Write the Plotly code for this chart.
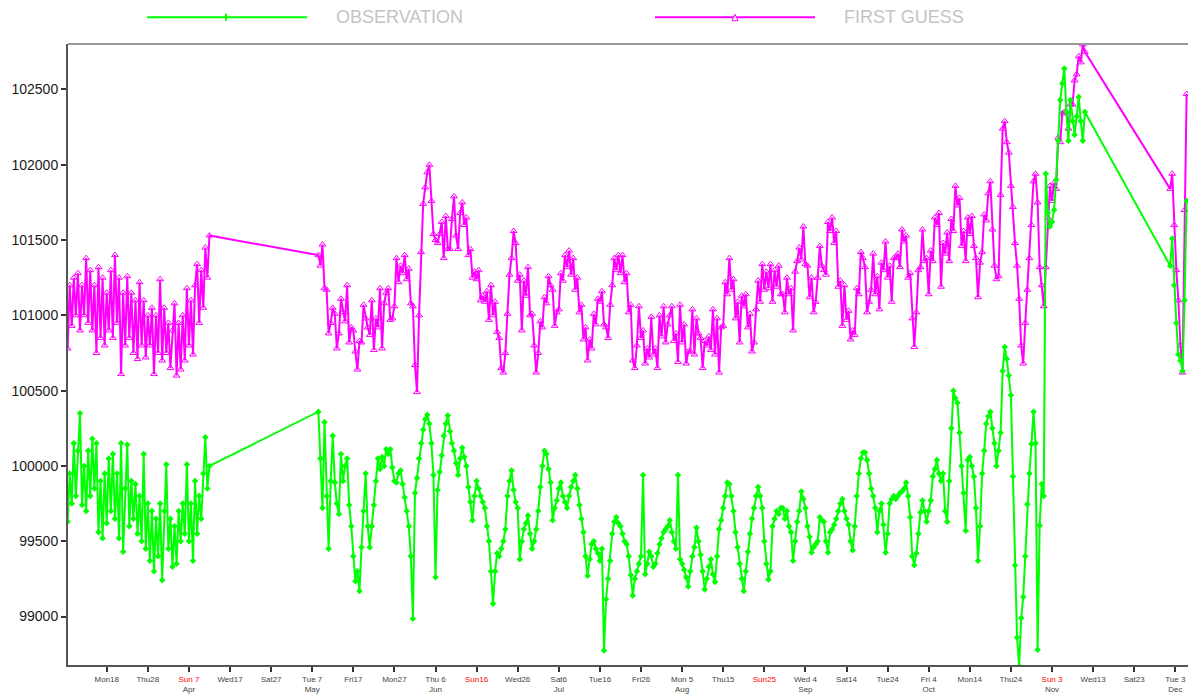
import pandas as pd
import plotly.graph_objects as go

# ---------------------------------------------------------------- data (Pa)
# 12-hourly surface pressure, three observing periods
seg_a_start = "2024-03-08 12:00"
seg_b_start = "2024-05-08 12:00"
seg_c_start = "2024-12-01 18:00"

obs_a = [
    99630, 99950, 99750, 100150, 99800, 100100, 100350, 99740, 100000, 99700,
    100100, 99800, 100180, 99850, 100150, 99560, 99900, 99520, 99950, 99620,
    100050, 99700, 100080, 99650, 99950, 99520, 100150, 99430, 99850, 100140,
    99600, 99900, 99650, 99880, 99550, 99800, 99500, 100080, 99450, 99750,
    99370, 99700, 99300, 99650, 99400, 99750, 99240, 99700, 100010, 99450,
    99650, 99330, 99600, 99350, 99700, 99500, 99750, 99550, 100010, 99500,
    99750, 99370, 99900, 99550, 99800, 99650, 99950, 100190, 99850, 100000,
]
fg_a = [
    100780, 101200, 100930, 101250, 101000, 101280, 100900, 101200, 101000, 101380,
    100950, 101300, 100900, 101200, 100750, 101320, 100850, 101250, 100800, 101150,
    100900, 101300, 100850, 101400, 100950, 101250, 100610, 101150, 100800, 101260,
    100850, 101150, 100750, 101100, 100710, 101220, 100800, 101100, 100720, 101000,
    100800, 101050, 100610, 101000, 100750, 101240, 100700, 101050, 100750, 100950,
    100650, 100900, 101080, 100600, 100950, 100640, 101000, 100700, 101180, 100800,
    101100, 100740, 101200, 101340, 100950, 101300, 101050, 101450, 101250, 101530,
]

obs_b = [
    100360, 100050, 99720, 100290, 99800, 99450, 99900, 100200, 99890, 99750,
    99680, 100080, 99900, 100000, 100050, 99740, 99600, 99400, 99235, 99300,
    99170, 99460, 99700, 99950, 99600, 99460, 99600, 99740, 99900, 100050,
    99980, 100060, 100000, 100110, 100080, 100110, 99990, 99900, 99890, 99950,
    99970, 99880, 99790, 99700, 99600, 99400, 98985, 99820, 99920, 100050,
    100150, 100240, 100310, 100340, 100280, 100150, 99940, 99260, 99840, 99960,
    100070, 100200, 100280, 100335, 100230, 100150, 100100, 100020, 99940, 100050,
    100120, 100060, 100000, 99860, 99760, 99640, 99800, 99900, 99850, 99800,
    99760, 99720, 99600, 99500, 99300, 99085, 99300, 99420, 99400, 99450,
    99500, 99580, 99800, 99900, 99970, 99840, 99760, 99720, 99380, 99500,
    99580, 99620, 99670, 99550, 99450, 99500, 99580, 99700, 99860, 100000,
    100100, 100080, 99980, 99890, 99640, 99720, 99770, 99850, 99890, 99800,
    99760, 99720, 99800, 99860, 99900, 99940, 99850, 99740, 99650, 99560,
    99400, 99270, 99380, 99480, 99500, 99450, 99420, 99370, 99450, 98775,
    99115, 99250, 99370, 99550, 99630, 99660, 99620, 99600, 99550, 99500,
    99480, 99400, 99275, 99140, 99250, 99300, 99350, 99400, 99940, 99280,
    99350, 99430, 99400, 99330, 99350, 99420, 99480, 99520, 99560, 99580,
    99600, 99640, 99560, 99500, 99450, 99940, 99380, 99350, 99310, 99260,
    99200, 99300, 99400, 99460, 99590, 99500, 99410, 99300, 99180, 99250,
    99330, 99380, 99280, 99230, 99400, 99580, 99640, 99720, 99800, 99890,
    99880, 99800, 99700, 99560, 99460, 99350, 99250, 99170, 99300, 99430,
    99550, 99650, 99720, 99800, 99860, 99800, 99720, 99500, 99350, 99245,
    99300, 99600, 99650, 99700, 99680, 99720, 99720, 99650, 99700, 99600,
    99560, 99370, 99500, 99630, 99700, 99830, 99780, 99720, 99600, 99530,
    99425, 99460, 99480, 99500, 99660, 99640, 99630, 99500, 99425, 99560,
    99580, 99610, 99650, 99700, 99750, 99780, 99700, 99650, 99610, 99500,
    99440, 99600, 99800, 99950, 100050, 100090, 100090, 100040, 99950, 99850,
    99800, 99720, 99560, 99700, 99750, 99610, 99425, 99550, 99750, 99780,
    99800, 99780, 99800, 99820, 99830, 99850, 99890, 99800, 99660, 99400,
    99340, 99420, 99550, 99690, 99770, 99700, 99630, 99700, 99770, 99930,
    99980, 100040, 99950, 99900, 99950, 99700, 99630, 99900, 100250, 100500,
    100450, 100420, 100220, 100000, 99820, 99570, 100040, 100060, 100000, 99930,
    99720, 99370, 99600, 99950, 100100, 100280, 100330, 100360, 100250, 100150,
    100000, 100100, 100220, 100630, 100790, 100710, 100600, 100470, 99930, 99340,
    98860, 98670, 98990, 99130, 99400, 99745, 99950, 100145, 100360, 100150,
    98780, 99605, 99880, 99800, 101940, 101680, 101590, 101620, 101700, 101900,
    102160, 102430, 102540, 102640, 102350, 102160, 102430, 102290, 102200, 102320,
    102450, 102290, 102160, 102350,
]
fg_b = [
    101400, 101330, 101470, 101180, 101170, 100880, 100950, 101050, 101010, 100780,
    100880, 101110, 101020, 100960, 101200, 100820, 100920, 100900, 100760, 100640,
    100830, 100820, 101070, 100980, 100920, 100870, 101100, 100770, 100980, 100920,
    101180, 100780, 101080, 101150, 101180, 100970, 100980, 101060, 101380, 101220,
    101330, 101280, 101400, 101240, 101310, 101080, 101060, 100670, 100490, 101000,
    101420, 101740, 101850, 101950, 102000, 101760, 101540, 101500, 101480, 101540,
    101620, 101380, 101660, 101440, 101440, 101640, 101790, 101530, 101440, 101680,
    101750, 101600, 101650, 101400, 101440, 101250, 101290, 101240, 101300, 101100,
    101130, 101090, 101160, 100970, 101200, 101000, 101090, 100890, 100850, 100650,
    100620, 100750, 101010, 101270, 101380, 101560, 101480, 101230, 101270, 100900,
    101230, 101130, 101320, 101000, 101010, 100800, 100620, 100750, 100960, 100920,
    101120, 101080, 101260, 101200, 101170, 100930, 101020, 101040, 101280, 101230,
    101400, 101320, 101430, 101270, 101380, 101170, 101250, 101020, 101070, 100840,
    100920, 100700, 100840, 100780, 101010, 100940, 101110, 101090, 101160, 100940,
    100920, 100850, 101070, 101200, 101380, 101300, 101400, 101280, 101400, 101220,
    101280, 101020, 101070, 100700, 100650, 100800, 101060, 100850, 100900, 100680,
    100780, 100720, 100990, 100740, 100780, 100650, 101000, 100860, 101060, 100820,
    100940, 101000, 101060, 100830, 100880, 100690, 101070, 100820, 100940, 100680,
    100760, 100760, 101040, 100740, 100980, 100880, 100850, 100650, 100830, 100800,
    100860, 100770, 101040, 100740, 100980, 100620, 100920, 100930, 101220, 101140,
    101380, 101170, 101240, 100980, 101090, 100820, 101130, 101060, 101140, 100920,
    101010, 100760, 100820, 101040, 101230, 101090, 101340, 101170, 101290, 101180,
    101340, 101090, 101300, 101190, 101330, 101140, 101140, 101020, 101250, 101140,
    101180, 100900, 101290, 101360, 101450, 101370, 101590, 101340, 101330, 101120,
    101250, 101020, 101090, 101250, 101460, 101330, 101300, 101270, 101620, 101560,
    101650, 101480, 101560, 101190, 101230, 100930, 101200, 100970, 101030, 100840,
    100900, 100870, 101180, 101140, 101420, 101380, 101320, 101020, 101090, 101170,
    101410, 101140, 101260, 101040, 101350, 101300, 101490, 101250, 101330, 101090,
    101380, 101380, 101410, 101320, 101570, 101490, 101530, 101250, 101280, 100980,
    100790, 101020, 101300, 101320, 101570, 101360, 101380, 101140, 101430, 101360,
    101650, 101600, 101680, 101190, 101480, 101410, 101550, 101360, 101640, 101560,
    101860, 101730, 101780, 101460, 101560, 101360, 101650, 101540, 101660, 101460,
    101380, 101120, 101350, 101420, 101670, 101630, 101810, 101890, 101570, 101330,
    101240, 101260, 101800, 102240, 102290, 102150, 102080, 101860, 101720, 101480,
    101330, 101110, 100800, 100680, 100950, 101170, 101380, 101600, 101890, 101940,
    101750, 101320, 101200, 101060, 101320, 101650, 101860, 101760, 101880, 101840,
    102180, 102150, 102340, 102350, 102350, 102240, 102400, 102400, 102560, 102600,
    102720, 102680, 102800, 102750,
]

obs_c = [101330, 101510, 101200, 100950, 100740, 100700, 100630, 101100, 101760]
fg_c = [101840, 101940, 101600, 101300, 101100, 100800, 100620, 101700, 102470]

y_ticks = [99000, 99500, 100000, 100500, 101000, 101500, 102000, 102500]

x_tick_dates = [
    "2024-03-18", "2024-03-28", "2024-04-07", "2024-04-17", "2024-04-27",
    "2024-05-07", "2024-05-17", "2024-05-27", "2024-06-06", "2024-06-16",
    "2024-06-26", "2024-07-06", "2024-07-16", "2024-07-26", "2024-08-05",
    "2024-08-15", "2024-08-25", "2024-09-04", "2024-09-14", "2024-09-24",
    "2024-10-04", "2024-10-14", "2024-10-24", "2024-11-03", "2024-11-13",
    "2024-11-23", "2024-12-03",
]
x_tick_text = [
    "Mon18", "Thu28", "Sun 7", "Wed17", "Sat27",
    "Tue 7", "Fri17", "Mon27", "Thu 6", "Sun16",
    "Wed26", "Sat6", "Tue16", "Fri26", "Mon 5",
    "Thu15", "Sun25", "Wed 4", "Sat14", "Tue24",
    "Fri 4", "Mon14", "Thu24", "Sun 3", "Wed13",
    "Sat23", "Tue 3",
]
x_tick_month = [
    "", "", "Apr", "", "", "May", "", "", "Jun", "", "", "Jul", "", "", "Aug",
    "", "", "Sep", "", "", "Oct", "", "", "Nov", "", "", "Dec",
]


def series_times(values_a, values_b, values_c):
    parts = [
        pd.date_range(seg_a_start, periods=len(values_a), freq="12h"),
        pd.date_range(seg_b_start, periods=len(values_b), freq="12h"),
        pd.date_range(seg_c_start, periods=len(values_c), freq="12h"),
    ]
    return parts[0].append(parts[1]).append(parts[2])


obs_t = series_times(obs_a, obs_b, obs_c)
fg_t = series_times(fg_a, fg_b, fg_c)
obs = obs_a + obs_b + obs_c
fg = fg_a + fg_b + fg_c

GREEN = "#00ff00"
MAGENTA = "#ff00ff"

fig = go.Figure()
fig.add_trace(go.Scatter(
    x=fg_t, y=fg, mode="lines+markers", name="FIRST GUESS",
    line=dict(color=MAGENTA, width=2),
    marker=dict(symbol="triangle-up-open", size=6, color=MAGENTA,
                line=dict(width=1, color=MAGENTA)),
    showlegend=False, cliponaxis=True,
))
fig.add_trace(go.Scatter(
    x=obs_t, y=obs, mode="lines+markers", name="OBSERVATION",
    line=dict(color=GREEN, width=2),
    marker=dict(symbol="diamond", size=5, color=GREEN),
    showlegend=False, cliponaxis=True,
))

# tick labels: Sundays in red, month name under the first tick of each month
tick_labels = []
for d, txt, mon in zip(x_tick_dates, x_tick_text, x_tick_month):
    first = f"<span style='color:#ff0000'>{txt}</span>" if txt.startswith("Sun") else txt
    tick_labels.append(first + ("<br><span style='color:#444444'>" + mon + "</span>" if mon else ""))

fig.update_xaxes(
    type="date",
    range=["2024-03-08 14:00", "2024-12-06 02:10"],
    tickmode="array", tickvals=x_tick_dates, ticktext=tick_labels,
    ticks="outside", ticklen=5, tickwidth=1.5, tickcolor="#333",
    tickfont=dict(family="Liberation Sans, Arial, sans-serif", size=8, color="#444"),
    showline=True, linecolor="#555", linewidth=2,
    showgrid=False, zeroline=False, tickangle=0,
)
fig.update_yaxes(
    range=[98678, 102802],
    tickmode="array", tickvals=y_ticks, ticktext=[str(v) for v in y_ticks],
    ticks="outside", ticklen=5, tickwidth=1.5, tickcolor="#333",
    tickfont=dict(family="Liberation Sans, Arial, sans-serif", size=14, color="#1a1a1a"),
    showline=True, linecolor="#555", linewidth=2,
    showgrid=False, zeroline=False,
)

# hand-drawn legend above the plot area
plot_l, plot_r, plot_t, plot_b = 68, 1188, 44, 671
W = plot_r - plot_l
H = plot_b - plot_t


def px(xp):
    return (xp - plot_l) / W


def py(yp):
    return (plot_b - yp) / H


shapes = [
    # top frame line
    dict(type="line", xref="paper", yref="paper", x0=0, x1=1, y0=1, y1=1,
         line=dict(color="#9a9a9a", width=2)),
    # observation legend line and marker
    dict(type="line", xref="paper", yref="paper", x0=px(147), x1=px(307),
         y0=py(17), y1=py(17), line=dict(color=GREEN, width=2)),
    dict(type="line", xref="paper", yref="paper", x0=px(226), x1=px(226),
         y0=py(13.5), y1=py(20.5), line=dict(color=GREEN, width=2)),
    # first guess legend line and marker
    dict(type="line", xref="paper", yref="paper", x0=px(655), x1=px(815),
         y0=py(17), y1=py(17), line=dict(color=MAGENTA, width=2)),
    dict(type="path", xref="paper", yref="paper",
         path=f"M {px(732)},{py(20.5)} L {px(738)},{py(20.5)} L {px(735)},{py(14)} Z",
         line=dict(color=MAGENTA, width=1), fillcolor="white"),
]

annotations = [
    dict(text="OBSERVATION", xref="paper", yref="paper", x=px(334), y=py(17),
         xanchor="left", yanchor="middle", showarrow=False,
         font=dict(family="Liberation Sans, Arial, sans-serif", size=18, color="#c4c4c4")),
    dict(text="FIRST GUESS", xref="paper", yref="paper", x=px(842), y=py(17),
         xanchor="left", yanchor="middle", showarrow=False,
         font=dict(family="Liberation Sans, Arial, sans-serif", size=18, color="#c4c4c4")),
]

fig.update_layout(
    width=1190, height=696,
    margin=dict(l=plot_l, r=1190 - plot_r, t=plot_t, b=696 - plot_b),
    paper_bgcolor="white", plot_bgcolor="white",
    shapes=shapes, annotations=annotations,
    showlegend=False,
)

fig.write_html("out.html")
